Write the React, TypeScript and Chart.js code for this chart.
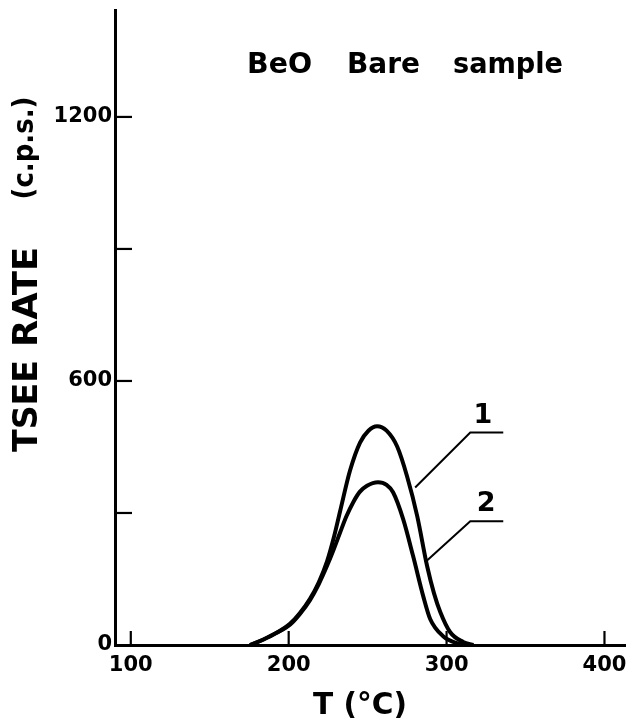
import React, { useEffect, useRef } from "react";
import { Chart, registerables } from "chart.js";

Chart.register(...registerables);

const FONT = '"DejaVu Sans", "Liberation Sans", sans-serif';

// Curve 1 (TSEE rate, c.p.s.) vs temperature (°C)
const curve1T = [175.5, 183.7, 192, 200.8, 207, 213.5, 219, 224.3, 228.5, 232.5, 238.9, 245.2, 250.5, 256, 262, 268.7, 275, 281.4, 287.7, 292, 296, 302.3, 310.5, 317];
const curve1V = [0, 12, 27, 48, 72, 105, 142, 190, 243, 303, 397, 460, 487, 497, 487, 451, 383, 293, 179, 118, 75, 29, 7, 0];

// Curve 2
const curve2T = [175.5, 183.7, 192, 200.8, 207, 213.5, 219, 224.3, 228.5, 232.5, 236.5, 240.8, 245, 249.6, 256.6, 262, 266.1, 272.5, 278.8, 285.2, 289.6, 297.8, 306.7, 314];
const curve2V = [0, 12, 27, 46, 70, 102, 138, 180, 217, 255, 292, 324, 348, 362, 370, 364, 347, 286, 202, 111, 59, 20, 4, 0];

// Leader lines to curve labels
const lead1T = [280.1, 315, 335.9];
const lead1V = [358, 483, 483];
const lead2T = [286.4, 315, 335.9];
const lead2V = [188, 281, 281];

const curveLabels = ["1", "2"];
const curveLabelT = [323, 325];
const curveLabelV = [520, 320];

const xTickValues = [100, 200, 300, 400];
const yTickValues = [0, 300, 600, 900, 1200];
const yLabelValues = [0, 600, 1200];

const titleWords = ["BeO", "Bare", "sample"];
const yTitleParts = ["TSEE", "RATE", "(c.p.s.)"];
const xTitle = "T (°C)";

const zip = (xs: number[], ys: number[]) => xs.map((x, i) => ({ x, y: ys[i] }));

function fitText(ctx: CanvasRenderingContext2D, text: string, x: number, y: number, width: number) {
  const w = ctx.measureText(text).width;
  const s = width / w;
  ctx.save();
  ctx.translate(x, y);
  ctx.scale(s, 1);
  ctx.textAlign = "center";
  ctx.fillText(text, 0, 0);
  ctx.restore();
}

const decorPlugin = {
  id: "decor",
  afterDraw(chart: any) {
    const ctx: CanvasRenderingContext2D = chart.ctx;
    const xs = chart.scales.x;
    const ys = chart.scales.y;
    const ca = chart.chartArea;
    ctx.save();
    ctx.strokeStyle = "#000";
    ctx.fillStyle = "#000";
    ctx.lineWidth = 2.2;
    // inward tick marks
    xs.ticks.forEach((t: any) => {
      const px = xs.getPixelForValue(t.value);
      ctx.beginPath();
      ctx.moveTo(px, ca.bottom);
      ctx.lineTo(px, ca.bottom - 14);
      ctx.stroke();
    });
    ys.ticks.forEach((t: any) => {
      if (t.value === 0) return;
      const py = ys.getPixelForValue(t.value);
      ctx.beginPath();
      ctx.moveTo(ca.left, py);
      ctx.lineTo(ca.left + 17, py);
      ctx.stroke();
    });

    // title inside plot
    ctx.textBaseline = "alphabetic";
    ctx.font = `bold 28px ${FONT}`;
    const titleCenters = [279.5, 383.5, 508];
    const titleWidths = [65, 73, 110];
    titleWords.forEach((w, i) => fitText(ctx, w, titleCenters[i], 73, titleWidths[i]));

    // y title (rotated)
    const yCenters = [406, 297, 148];
    const yWidths = [92, 100, 103];
    const yBase = [37, 37, 33];
    const ySizes = [34, 34, 29];
    yTitleParts.forEach((p, i) => {
      ctx.save();
      ctx.translate(yBase[i], yCenters[i]);
      ctx.rotate(-Math.PI / 2);
      ctx.font = `bold ${ySizes[i]}px ${FONT}`;
      fitText(ctx, p, 0, 0, yWidths[i]);
      ctx.restore();
    });

    // x title
    ctx.font = `bold 31px ${FONT}`;
    fitText(ctx, xTitle, 360, 714, 94);

    // curve labels
    ctx.font = `bold 27px ${FONT}`;
    ctx.textBaseline = "middle";
    curveLabels.forEach((l, i) => {
      ctx.textAlign = "center";
      ctx.fillText(l, xs.getPixelForValue(curveLabelT[i]), ys.getPixelForValue(curveLabelV[i]));
    });
    ctx.restore();
  },
};

export default function App() {
  const ref = useRef<HTMLCanvasElement | null>(null);
  useEffect(() => {
    if (!ref.current) return;
    const curveStyle = {
      borderColor: "#000",
      borderWidth: 4,
      pointRadius: 0,
      fill: false,
      cubicInterpolationMode: "monotone" as const,
    };
    const leadStyle = {
      borderColor: "#000",
      borderWidth: 2,
      pointRadius: 0,
      fill: false,
      tension: 0,
    };
    const chart = new Chart(ref.current, {
      type: "line",
      data: {
        datasets: [
          { label: "1", data: zip(curve1T, curve1V), ...curveStyle },
          { label: "2", data: zip(curve2T, curve2V), ...curveStyle },
          { label: "lead1", data: zip(lead1T, lead1V), ...leadStyle },
          { label: "lead2", data: zip(lead2T, lead2V), ...leadStyle },
        ],
      },
      options: {
        animation: false,
        responsive: true,
        maintainAspectRatio: false,
        layout: { padding: { top: 10, right: 1, left: 0, bottom: 0 } },
        plugins: { legend: { display: false }, tooltip: { enabled: false }, title: { display: false } },
        scales: {
          x: {
            type: "linear",
            min: 90,
            max: 413,
            grid: { display: false, drawTicks: false },
            border: { display: true, color: "#000", width: 3 },
            afterBuildTicks: (scale: any) => {
              scale.ticks = xTickValues.map((v) => ({ value: v }));
            },
            afterFit: (scale: any) => {
              scale.height = 80;
              scale.paddingLeft = 0;
              scale.paddingRight = 0;
            },
            ticks: {
              color: "#000",
              font: { family: FONT, size: 21, weight: "bold" },
              padding: 8,
              maxRotation: 0,
              autoSkip: false,
            },
          },
          y: {
            type: "linear",
            min: 0,
            max: 1443,
            grid: { display: false, drawTicks: false },
            border: { display: true, color: "#000", width: 3 },
            afterBuildTicks: (scale: any) => {
              scale.ticks = yTickValues.map((v) => ({ value: v }));
            },
            afterFit: (scale: any) => {
              scale.width = 115;
              scale.paddingTop = 0;
              scale.paddingBottom = 0;
            },
            ticks: {
              color: "#000",
              font: { family: FONT, size: 21, weight: "bold" },
              padding: 3,
              autoSkip: false,
              callback: (v: any) => (yLabelValues.includes(Number(v)) ? String(v) : ""),
            },
          },
        },
      },
      plugins: [decorPlugin],
    });
    return () => chart.destroy();
  }, []);
  return (
    <div style={{ position: "fixed", left: 0, top: 0, width: 626, height: 725, background: "#fff" }}>
      <canvas ref={ref} />
    </div>
  );
}
